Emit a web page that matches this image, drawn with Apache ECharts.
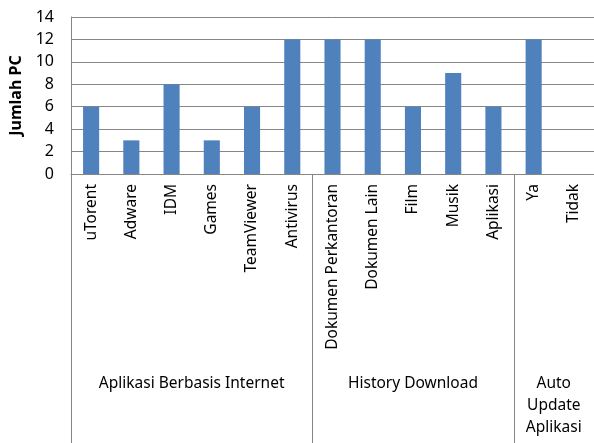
<!DOCTYPE html>
<html>
<head>
<meta charset="utf-8">
<script src="https://cdn.jsdelivr.net/npm/echarts@6/dist/echarts.min.js"></script>
<style>
  html, body { margin: 0; padding: 0; background: #fff; }
  #chart { width: 594px; height: 443px; }
</style>
</head>
<body>
<div id="chart"></div>
<script>
// Categories, grouped under three headings along the bottom
const categories = ['uTorent', 'Adware', 'IDM', 'Games', 'TeamViewer', 'Antivirus',
  'Dokumen Perkantoran', 'Dokumen Lain', 'Film', 'Musik', 'Aplikasi', 'Ya', 'Tidak'];
const jumlahPC = [6, 3, 8, 3, 6, 12, 12, 12, 6, 9, 6, 12, 0];
const groups = [
  { name: 'Aplikasi Berbasis Internet', from: 0, to: 5 },
  { name: 'History Download', from: 6, to: 10 },
  { name: 'Auto\nUpdate\nAplikasi', from: 11, to: 12 }
];
const yTicks = [0, 2, 4, 6, 8, 10, 12, 14];

const FONT = '"Noto Sans", sans-serif';
const AXIS_GREY = '#868686';

const chart = echarts.init(document.getElementById('chart'), null, { renderer: 'canvas' });

const option = {
  animation: false,
  grid: { left: 70, right: -4, top: 17, bottom: 269, containLabel: false },
  xAxis: {
    type: 'category',
    data: categories,
    axisLine: { lineStyle: { color: AXIS_GREY, width: 1 } },
    axisTick: { show: false },
    axisLabel: {
      rotate: 90, interval: 0, margin: 10,
      color: '#000', fontFamily: FONT, fontSize: 15.5
    }
  },
  yAxis: {
    type: 'value',
    min: yTicks[0], max: yTicks[yTicks.length - 1], interval: 2,
    name: 'Jumlah PC',
    nameLocation: 'middle',
    nameGap: 47,
    nameTextStyle: { fontFamily: FONT, fontSize: 16, fontWeight: 'bold', color: '#000' },
    axisLine: { show: true, lineStyle: { color: AXIS_GREY } },
    axisTick: { show: false },
    axisLabel: { color: '#000', fontFamily: FONT, fontSize: 16, margin: 17 },
    splitLine: { lineStyle: { color: AXIS_GREY, width: 1 } }
  },
  series: [{
    type: 'bar',
    data: jumlahPC,
    barWidth: '40%',
    itemStyle: { color: '#4f81bd' }
  }]
};
chart.setOption(option);

// Group separators and group titles below the category labels
function drawGroups() {
  const H = chart.getHeight();
  const y0 = chart.convertToPixel({ yAxisIndex: 0 }, 0);
  const px = i => chart.convertToPixel({ xAxisIndex: 0 }, categories[i]);
  const step = px(1) - px(0);
  const elements = [];
  const edge = x => ({
    type: 'line', silent: true,
    shape: { x1: x, y1: y0, x2: x, y2: H },
    style: { stroke: AXIS_GREY, lineWidth: 1 }
  });
  elements.push(edge(Math.round(px(0) - step / 2) + 0.5));
  groups.forEach((g, k) => {
    if (k < groups.length - 1) elements.push(edge(Math.round(px(g.to) + step / 2) + 0.5));
    elements.push({
      type: 'text', silent: true,
      x: (px(g.from) + px(g.to)) / 2,
      y: 373,
      style: {
        text: g.name, fill: '#000', font: '15.5px ' + FONT,
        align: 'center', verticalAlign: 'top', lineHeight: 22
      }
    });
  });
  chart.setOption({ graphic: { elements } });
}
drawGroups();
</script>
</body>
</html>
